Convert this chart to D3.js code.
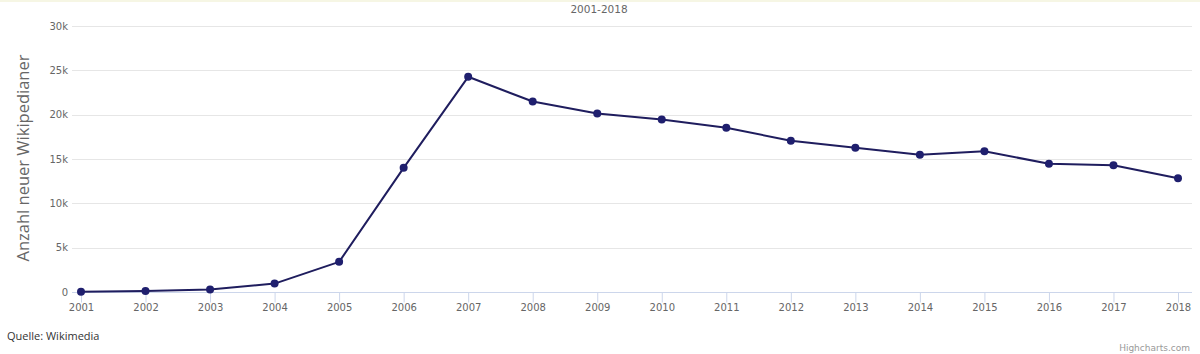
<!DOCTYPE html>
<html>
<head>
<meta charset="utf-8">
<script src="https://cdn.jsdelivr.net/npm/d3@7"></script>
<style>
  body { margin: 0; background: #fff; }
  svg { display: block; }
</style>
</head>
<body>
<div id="chart"></div>
<script>
const years = ['2001', '2002', '2003', '2004', '2005', '2006', '2007', '2008', '2009',
  '2010', '2011', '2012', '2013', '2014', '2015', '2016', '2017', '2018']
const newWikipedians = [30, 100, 280, 950, 3400, 14000, 24270, 21480, 20130,
  19450, 18520, 17060, 16270, 15480, 15870, 14470, 14290, 12820]
const yTicks = [0, 5000, 10000, 15000, 20000, 25000, 30000]

const width = 1200
const height = 354
const margin = { top: 26, right: 8, bottom: 62, left: 72 }

const svg = d3.select('#chart')
  .append('svg')
  .attr('width', width)
  .attr('height', height)

// pale top border
svg.append('rect')
  .attr('x', 0).attr('y', 0)
  .attr('width', width).attr('height', 2)
  .attr('fill', '#f6f6e4')

const x = d3.scalePoint()
  .domain(years)
  .range([81, 1178])

const y = d3.scaleLinear()
  .domain([0, 30000])
  .range([height - margin.bottom, margin.top])

// grid
svg.append('g')
  .selectAll('line')
  .data(yTicks.filter((d) => d > 0))
  .join('line')
  .attr('x1', margin.left)
  .attr('x2', 1192)
  .attr('y1', (d) => Math.round(y(d)) + 0.5)
  .attr('y2', (d) => Math.round(y(d)) + 0.5)
  .attr('stroke', '#e6e6e6')
  .attr('stroke-width', 1)

// y axis labels
const yAxis = svg.append('g')
  .attr('transform', `translate(${margin.left - 4},0)`)
  .call(d3.axisLeft(y).tickValues(yTicks).tickSize(0).tickPadding(0)
    .tickFormat((d) => (d === 0 ? '0' : d / 1000 + 'k')))
yAxis.select('.domain').remove()
yAxis.selectAll('text')
  .attr('fill', '#666')
  .attr('font-family', 'DejaVu Sans, Verdana, sans-serif')
  .attr('font-size', '10px')

// x axis
const xAxis = svg.append('g')
  .attr('transform', `translate(0,${Math.round(y(0)) + 0.5})`)
  .call(d3.axisBottom(x).tickSize(10).tickPadding(3))
xAxis.select('.domain')
  .attr('d', `M${margin.left},0H1192`)
  .attr('stroke', '#ccd6eb')
xAxis.selectAll('.tick line').attr('stroke', '#ccd6eb')
xAxis.selectAll('text')
  .attr('fill', '#666')
  .attr('font-family', 'DejaVu Sans, Verdana, sans-serif')
  .attr('font-size', '10px')
  .attr('dy', '0.5em')

// series
const line = d3.line()
  .x((d, i) => x(years[i]))
  .y((d) => y(d))

svg.append('path')
  .datum(newWikipedians)
  .attr('d', line)
  .attr('fill', 'none')
  .attr('stroke', '#1f1d5e')
  .attr('stroke-width', 2)
  .attr('stroke-linejoin', 'round')

svg.append('g')
  .selectAll('circle')
  .data(newWikipedians)
  .join('circle')
  .attr('cx', (d, i) => x(years[i]))
  .attr('cy', (d) => y(d))
  .attr('r', 4)
  .attr('fill', '#1f1f6e')

// title
svg.append('text')
  .attr('x', 599)
  .attr('y', 13)
  .attr('text-anchor', 'middle')
  .attr('fill', '#666')
  .attr('font-family', 'DejaVu Sans, Verdana, sans-serif')
  .attr('font-size', '10.5px')
  .text('2001-2018')

// y axis title
svg.append('text')
  .attr('transform', 'translate(29,158) rotate(-90)')
  .attr('text-anchor', 'middle')
  .attr('fill', '#666')
  .attr('font-family', 'Open Sans, sans-serif')
  .attr('font-size', '16.5px')
  .text('Anzahl neuer Wikipedianer')

// source
svg.append('text')
  .attr('x', 7)
  .attr('y', 340)
  .attr('fill', '#333')
  .attr('font-family', 'Open Sans, sans-serif')
  .attr('font-size', '11px')
  .text('Quelle: Wikimedia')

// credits
svg.append('text')
  .attr('x', 1190)
  .attr('y', 351)
  .attr('text-anchor', 'end')
  .attr('fill', '#999')
  .attr('font-family', 'DejaVu Sans, Verdana, sans-serif')
  .attr('font-size', '9px')
  .text('Highcharts.com')
</script>
</body>
</html>
